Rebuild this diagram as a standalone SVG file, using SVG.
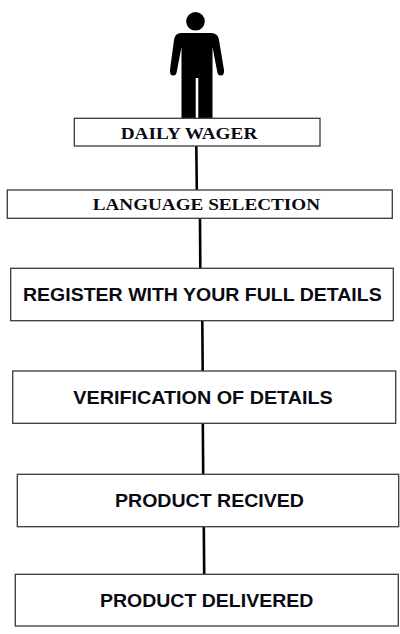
<svg xmlns="http://www.w3.org/2000/svg" width="400" height="634" viewBox="0 0 400 634">
<style>
.box{fill:#fff;stroke:#3a3a3a;stroke-width:1.3}
.serif{font-family:"Liberation Serif","Times New Roman",serif;font-weight:bold;font-size:16.3px;fill:#0a0a14}
.sans{font-family:"Liberation Sans",Arial,sans-serif;font-weight:bold;font-size:18.8px;fill:#0a0a14}
.conn{stroke:#000;stroke-width:2.6;fill:none}
</style>
<rect width="400" height="634" fill="#fff"/>
<g id="person">
<circle cx="195.5" cy="21.3" r="9.3" fill="#000"/>
<path fill="#000" d="M181 33 H211 Q218 33 219 40 L224 70 Q224.5 75.5 220.8 75.5 Q217.8 75.5 217.3 72 L212.5 47 V118 H198.3 V78 H195.7 V118 H181.5 V47 L176.7 72 Q176.2 75.5 173.2 75.5 Q169.5 75.5 170 70 L174 40 Q175 33 181 33 Z"/>
</g>
<g id="connectors">
<line class="conn" x1="196.3" y1="146" x2="196.8" y2="190"/>
<line class="conn" x1="200" y1="218.5" x2="200.3" y2="268"/>
<line class="conn" x1="202.3" y1="321" x2="202.7" y2="371"/>
<line class="conn" x1="202.8" y1="423.5" x2="203.2" y2="474"/>
<line class="conn" x1="203.8" y1="527" x2="204.2" y2="574"/>
</g>
<g id="daily-wager">
<rect class="box" x="74.3" y="118.3" width="245.7" height="27.7"/>
<text class="serif" x="120.7" y="139" textLength="136.6" lengthAdjust="spacingAndGlyphs">DAILY WAGER</text>
</g>
<g id="language-selection">
<rect class="box" x="7.3" y="190" width="385" height="28.3"/>
<text class="serif" x="92.7" y="210.3" textLength="227.3" lengthAdjust="spacingAndGlyphs">LANGUAGE SELECTION</text>
</g>
<g id="register">
<rect class="box" x="10.7" y="268.3" width="382.6" height="52.4"/>
<text class="sans" x="23" y="300.9" textLength="358.7" lengthAdjust="spacingAndGlyphs">REGISTER WITH YOUR FULL DETAILS</text>
</g>
<g id="verification">
<rect class="box" x="12.7" y="371" width="383" height="52.3"/>
<text class="sans" x="73.3" y="404.2" textLength="259.4" lengthAdjust="spacingAndGlyphs">VERIFICATION OF DETAILS</text>
</g>
<g id="product-received">
<rect class="box" x="17.3" y="474.3" width="381.4" height="52.4"/>
<text class="sans" x="115" y="506.9" textLength="189" lengthAdjust="spacingAndGlyphs">PRODUCT RECIVED</text>
</g>
<g id="product-delivered">
<rect class="box" x="15.3" y="574.3" width="383" height="51.7"/>
<text class="sans" x="100" y="606.9" textLength="213.3" lengthAdjust="spacingAndGlyphs">PRODUCT DELIVERED</text>
</g>
</svg>
